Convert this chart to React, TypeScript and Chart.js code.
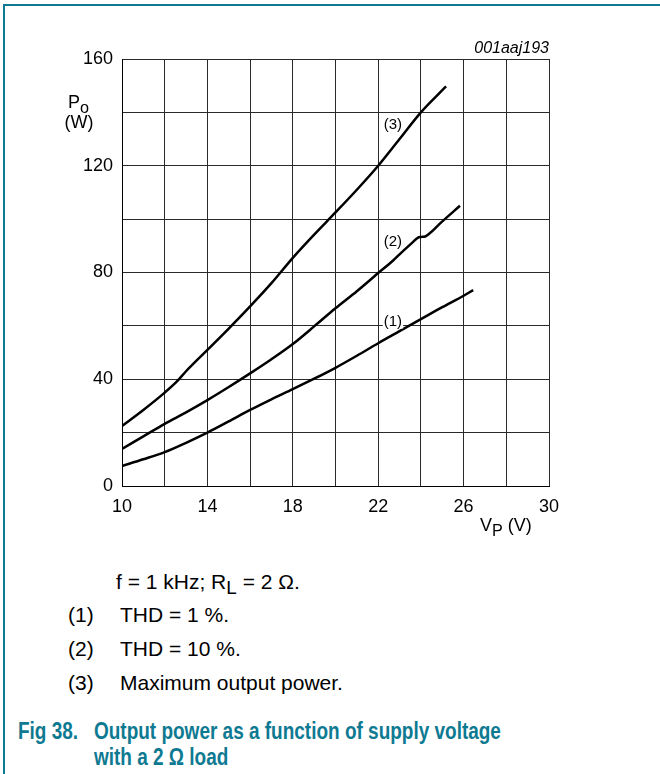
import React, { useEffect, useRef } from 'react';
import { Chart, registerables } from 'chart.js';

Chart.register(...registerables);

// ---- data ----
const xTickLabels = [10, 14, 18, 22, 26, 30];
const yTickLabels = [0, 40, 80, 120, 160];

// (1) THD = 1 %
const curve1V = [10, 11, 12, 13, 14, 15, 16, 17, 18, 19, 20, 21, 22, 23, 24, 25, 26, 26.45];
const curve1P = [7.5, 10, 12.7, 16.2, 20, 24.2, 28.5, 32.5, 36.3, 40.2, 44.3, 48.8, 53.5, 58, 62.5, 67, 71.3, 73.4];

// (2) THD = 10 %
const curve2V = [10, 11, 12, 13, 14, 15, 16, 17, 18, 19, 20, 21, 22, 22.7, 23.0, 23.6, 23.85, 24.0, 24.2, 24.4, 24.9, 25.83];
const curve2P = [13.9, 18.6, 23.3, 27.6, 32.2, 37.1, 42.2, 47.5, 53.2, 59.8, 66.6, 73, 79.8, 84.5, 86.8, 91.2, 93.0, 93.3, 93.5, 94.6, 98.4, 105];

// (3) Maximum output power
const curve3V = [10, 11, 12, 12.55, 13, 14, 15, 16, 17, 18, 19, 20, 21, 22, 23, 24, 25.18];
const curve3P = [22.5, 28.5, 35, 39, 43, 51, 59, 67.3, 76, 85.5, 94.2, 102.5, 111, 120, 130, 140, 149.7];

const curveLabelText = ['(1)', '(2)', '(3)'];
const curveLabelV = [22.69, 22.69, 22.69];
const curveLabelP = [62.0, 91.9, 135.7];

const FONT = '"Liberation Sans", Arial, Helvetica, sans-serif';
const TEAL = '#0e7a92';

const toPoints = (xs: number[], ys: number[]) => xs.map((x, i) => ({ x, y: ys[i] }));

const curveLabelPlugin = {
  id: 'curveLabels',
  afterDatasetsDraw(chart: any) {
    const { ctx, scales } = chart;
    const xs = scales.x;
    const ys = scales.y;
    ctx.save();
    ctx.font = `15px ${FONT}`;
    ctx.textAlign = 'center';
    ctx.textBaseline = 'middle';
    curveLabelText.forEach((t, i) => {
      const px = xs.getPixelForValue(curveLabelV[i]);
      const py = ys.getPixelForValue(curveLabelP[i]);
      const w = ctx.measureText(t).width;
      ctx.fillStyle = '#fff';
      ctx.fillRect(px - w / 2 - 1, py - 8, w + 2, 16);
      ctx.fillStyle = '#000';
      ctx.fillText(t, px, py + 1);
    });
    ctx.restore();
  },
};

function PowerChart() {
  const ref = useRef<HTMLCanvasElement | null>(null);
  useEffect(() => {
    if (!ref.current) return;
    const lineStyle = {
      borderColor: '#000',
      borderWidth: 2.5,
      pointRadius: 0,
      fill: false,
      cubicInterpolationMode: 'monotone' as const,
    };
    const chart = new Chart(ref.current, {
      type: 'line',
      data: {
        datasets: [
          { label: '(1)', data: toPoints(curve1V, curve1P), ...lineStyle },
          { label: '(2)', data: toPoints(curve2V, curve2P), ...lineStyle },
          { label: '(3)', data: toPoints(curve3V, curve3P), ...lineStyle },
        ],
      },
      options: {
        responsive: false,
        animation: false,
        devicePixelRatio: 1,
        layout: { padding: { left: 0, top: 59, right: 111, bottom: 0 } },
        plugins: { legend: { display: false }, tooltip: { enabled: false } },
        scales: {
          x: {
            type: 'linear',
            min: 10,
            max: 30,
            afterFit: (s: any) => { s.height = 74; },
            ticks: {
              stepSize: 2,
              autoSkip: false,
              maxRotation: 0,
              padding: 10,
              color: '#000',
              font: { family: FONT, size: 18 },
              callback: (v: any) => (xTickLabels.includes(Number(v)) ? String(v) : ''),
            },
            grid: { color: '#2a2a2a', lineWidth: 1, drawTicks: false },
            border: { display: true, color: '#000', width: 1 },
          },
          y: {
            type: 'linear',
            min: 0,
            max: 160,
            afterFit: (s: any) => { s.width = 122; },
            ticks: {
              stepSize: 20,
              autoSkip: false,
              padding: 9,
              color: '#000',
              font: { family: FONT, size: 18 },
              callback: (v: any) => (yTickLabels.includes(Number(v)) ? String(v) : ''),
            },
            grid: { color: '#2a2a2a', lineWidth: 1, drawTicks: false },
            border: { display: true, color: '#000', width: 1 },
          },
        },
      },
      plugins: [curveLabelPlugin],
    } as any);
    return () => chart.destroy();
  }, []);
  return (
    <canvas
      ref={ref}
      width={660}
      height={560}
      style={{ position: 'absolute', left: 0, top: 0, width: 660, height: 560 }}
    />
  );
}

const abs = (left: number, top: number, size: number, extra: React.CSSProperties = {}): React.CSSProperties => ({
  position: 'absolute',
  left,
  top,
  fontSize: size,
  lineHeight: 1,
  whiteSpace: 'nowrap',
  fontFamily: FONT,
  color: '#000',
  ...extra,
});

const sub: React.CSSProperties = { fontSize: '0.9em', position: 'relative', top: 5 };
const titleStyle: React.CSSProperties = { color: TEAL, fontWeight: 'bold', transform: 'scaleX(0.825)', transformOrigin: 'left top' };

export default function App() {
  return (
    <div style={{ position: 'absolute', left: 0, top: 0, width: 660, height: 774, background: '#fff', overflow: 'hidden', fontFamily: FONT }}>
      <div style={{ position: 'absolute', left: 3, top: 4, width: 700, height: 800, borderLeft: `2px solid ${TEAL}`, borderTop: `2px solid ${TEAL}` }} />
      <PowerChart />
      <div style={abs(0, 39.5, 16, { width: 549, textAlign: 'right', fontStyle: 'italic' })}>001aaj193</div>
      <div style={abs(68, 92.5, 18)}>P<span style={sub}>o</span></div>
      <div style={abs(64.5, 113, 18)}>(W)</div>
      <div style={abs(480, 516, 18)}>V<span style={sub}>P</span> (V)</div>

      <div style={abs(116, 570.5, 21)}>f = 1 kHz; R<span style={sub}>L</span> = 2 Ω.</div>
      <div style={abs(68, 604.3, 21)}>(1)</div>
      <div style={abs(120, 604.3, 21)}>THD = 1 %.</div>
      <div style={abs(68, 638.3, 21)}>(2)</div>
      <div style={abs(120, 638.3, 21)}>THD = 10 %.</div>
      <div style={abs(68, 672.3, 21)}>(3)</div>
      <div style={abs(120, 672.3, 21)}>Maximum output power.</div>

      <div style={abs(18, 719.8, 23, titleStyle)}>Fig 38.</div>
      <div style={abs(94, 719.8, 23, titleStyle)}>Output power as a function of supply voltage</div>
      <div style={abs(94, 745.5, 23, titleStyle)}>with a 2 Ω load</div>
    </div>
  );
}
